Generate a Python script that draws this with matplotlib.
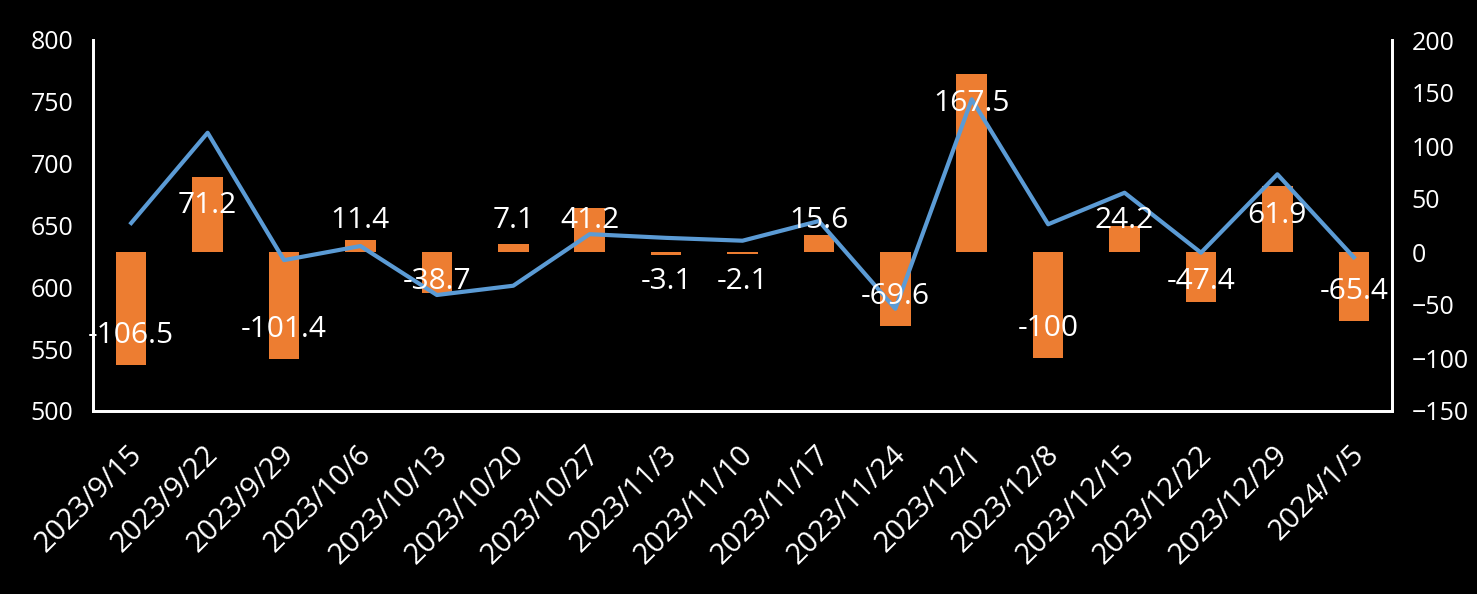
import matplotlib
matplotlib.use("Agg")
import matplotlib.pyplot as plt
import matplotlib.transforms as mtransforms

plt.rcParams['font.family'] = ['Open Sans', 'DejaVu Sans']

# data
dates = ["2023/9/15", "2023/9/22", "2023/9/29", "2023/10/6", "2023/10/13",
         "2023/10/20", "2023/10/27", "2023/11/3", "2023/11/10", "2023/11/17",
         "2023/11/24", "2023/12/1", "2023/12/8", "2023/12/15", "2023/12/22",
         "2023/12/29", "2024/1/5"]
level = [652, 725, 622, 633.4, 593.8, 601.3, 643, 640, 637.7, 653.6,
         582.7, 752, 651, 676.5, 628, 691.4, 624.3]
change = [-106.5, 71.2, -101.4, 11.4, -38.7, 7.1, 41.2, -3.1, -2.1, 15.6,
          -69.6, 167.5, -100, 24.2, -47.4, 61.9, -65.4]

left_ticks = [500, 550, 600, 650, 700, 750, 800]
right_ticks = [-150, -100, -50, 0, 50, 100, 150, 200]

fig = plt.figure(figsize=(14.77, 5.94), dpi=100, facecolor="black")
ax_bar = fig.add_axes([93/1477, 1-411/594, (1392-93)/1477, (411-40)/594])
ax_bar.set_facecolor("black")
ax_line = ax_bar.twinx()

x = list(range(len(dates)))

ax_bar.bar(x, change, width=0.4, color="#ED7D31")
ax_bar.set_ylim(-150, 200)
ax_bar.set_yticks(right_ticks)
ax_bar.yaxis.tick_right()

ax_line.plot(x, level, color="#5B9BD5", lw=3, solid_joinstyle="round")
ax_line.set_ylim(500, 800)
ax_line.set_yticks(left_ticks)
ax_line.yaxis.tick_left()

ax_bar.set_xlim(-0.5, len(dates) - 0.5)
ax_bar.set_xticks(x)
ax_bar.set_xticklabels(dates, rotation=45, ha="right", rotation_mode="anchor",
                       fontsize=21, color="white")
ax_bar.tick_params(axis="x", length=0, pad=21)
offset = mtransforms.ScaledTranslation(-4/100, 0, fig.dpi_scale_trans)
for lab in ax_bar.get_xticklabels():
    lab.set_transform(lab.get_transform() + offset)

ax_bar.tick_params(axis="y", length=0, pad=14, labelsize=18, labelcolor="white")
ax_line.tick_params(axis="y", length=0, pad=14, labelsize=18, labelcolor="white")

for a in (ax_bar, ax_line):
    for s in a.spines.values():
        s.set_color("white")
        s.set_linewidth(2)
    a.spines["top"].set_visible(False)

# data labels (white), above the line
for i, v in enumerate(change):
    if v >= 0:
        ly = max(v - 27, 30)
    else:
        ly = min(v + 28, -28)
    txt = "%g" % v
    ax_line.text(i, ly, txt, transform=ax_bar.transData, ha="center", va="center",
                 color="white", fontsize=21.5, zorder=5)

fig.savefig("out.png", dpi=100, facecolor="black")
